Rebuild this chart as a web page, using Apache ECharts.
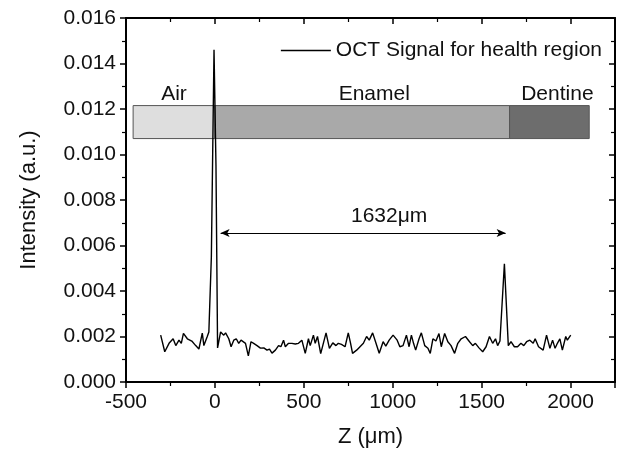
<!DOCTYPE html>
<html>
<head>
<meta charset="utf-8">
<script src="https://cdn.jsdelivr.net/npm/echarts@6/dist/echarts.min.js"></script>
<style>
  html, body { margin: 0; padding: 0; background: #fff; }
  #main { width: 623px; height: 453px; }
</style>
</head>
<body>
<div id="main"></div>
<script>
// depth position (um)
var zValues = [-305, -282, -258, -235, -220, -202, -189, -177, -155, -130, -108, -90, -71, -62, -43, -34, -20, -5, 6, 15,
  32, 50, 60, 78, 91, 106, 120, 134, 147, 172, 188, 203, 218, 237, 256, 275, 293, 307, 321, 340,
  358, 371, 386, 396, 414, 433, 452, 470, 489, 508, 526, 536, 554, 564, 577, 595, 625, 644, 663, 681,
  694, 712, 732, 750, 763, 774, 797, 816, 835, 853, 868, 887, 906, 924, 946, 961, 980, 1002, 1025, 1040,
  1058, 1077, 1092, 1105, 1117, 1129, 1148, 1161, 1180, 1198, 1211, 1226, 1243, 1260, 1273, 1292, 1310, 1328, 1348, 1366,
  1385, 1409, 1432, 1450, 1465, 1485, 1506, 1525, 1544, 1562, 1578, 1590, 1603, 1628, 1650, 1665, 1684, 1702, 1721, 1737,
  1753, 1771, 1790, 1801, 1820, 1846, 1865, 1884, 1899, 1913, 1926, 1940, 1954, 1973, 1982, 2001];
// OCT intensity (a.u.)
var intensity = [0.00206, 0.00133, 0.0017, 0.0019, 0.0016, 0.00184, 0.0017, 0.00214, 0.0019, 0.0018, 0.0016, 0.00145, 0.00215, 0.0016, 0.0020, 0.0022, 0.0055, 0.0146, 0.0095, 0.0015,
  0.0022, 0.00206, 0.00216, 0.0019, 0.00155, 0.00184, 0.0019, 0.0017, 0.00184, 0.0017, 0.00115, 0.00177, 0.0017, 0.0016, 0.00149, 0.0015, 0.0014, 0.00145, 0.00127, 0.0014,
  0.0016, 0.00155, 0.00184, 0.00155, 0.0017, 0.0017, 0.00167, 0.0017, 0.00184, 0.00126, 0.0019, 0.0016, 0.00206, 0.0017, 0.0020, 0.00125, 0.00216, 0.00148, 0.00172, 0.0016,
  0.0017, 0.00165, 0.00155, 0.00216, 0.0017, 0.00126, 0.0014, 0.00155, 0.0017, 0.0020, 0.00184, 0.00216, 0.0017, 0.00126, 0.00177, 0.00158, 0.00184, 0.00206, 0.00184, 0.00155,
  0.0016, 0.00206, 0.00155, 0.00206, 0.0017, 0.0014, 0.0019, 0.00216, 0.0016, 0.00148, 0.00126, 0.0019, 0.0018, 0.00213, 0.00155, 0.00213, 0.00177, 0.0016, 0.00126, 0.0017,
  0.0019, 0.0020, 0.00177, 0.0016, 0.0017, 0.0015, 0.00133, 0.00155, 0.0020, 0.0017, 0.0019, 0.0016, 0.0018, 0.0052, 0.0016, 0.00177, 0.00155, 0.00155, 0.0017, 0.0016,
  0.00177, 0.00184, 0.0017, 0.0019, 0.00155, 0.0014, 0.00206, 0.00148, 0.00184, 0.00148, 0.0017, 0.0019, 0.0014, 0.0020, 0.00184, 0.00206];
// tissue layers bar
var regionNames = ['Air', 'Enamel', 'Dentine'];
var regionStart = [-460, 0, 1657];
var regionEnd = [0, 1657, 2105];
var regionColors = ['#dedede', '#a9a9a9', '#6d6d6d'];
var bandLow = 0.0107;
var bandHigh = 0.01215;
// distance arrow
var arrowFrom = 32;
var arrowTo = 1635;
var arrowLevel = 0.00655;
var arrowText = '1632\u03bcm';

var myChart = echarts.init(document.getElementById('main'));
var fontName = '"Liberation Sans", Arial, sans-serif';
var fs = 21;

function BuildAreas () {
  var areas = [];
  for (var i = 0; i < regionNames.length; i++) {
    var lbl = { show: true, position: 'top', distance: 0, color: '#111', fontSize: fs, fontFamily: fontName };
    if (regionNames[i] == 'Enamel') lbl.offset = [12, 0];
    if (regionNames[i] == 'Dentine') lbl.offset = [8, 0];
    areas.push([
      { name: regionNames[i], xAxis: regionStart[i], yAxis: bandLow,
        itemStyle: { color: regionColors[i], borderColor: '#555', borderWidth: 1 }, label: lbl },
      { xAxis: regionEnd[i], yAxis: bandHigh }
    ]);
  }
  return areas;
}

var seriesData = [];
for (var i = 0; i < zValues.length; i++) {
  seriesData.push([zValues[i], intensity[i]]);
}

var axisLine = { show: true, onZero: false, lineStyle: { color: '#000', width: 2 } };

var option = {
  animation: false,
  backgroundColor: '#fff',
  grid: { left: 126, right: 8, top: 18, bottom: 71 },
  legend: {
    right: 16, top: 35,
    icon: 'rect',
    itemWidth: 50, itemHeight: 1.5,
    textStyle: { fontSize: fs, color: '#111', fontFamily: fontName },
    data: ['OCT Signal for health region']
  },
  xAxis: [
    {
      type: 'value', min: -500, max: 2250, interval: 500,
      name: 'Z (\u03bcm)', nameLocation: 'middle', nameGap: 44,
      nameTextStyle: { fontSize: 22, color: '#111', fontFamily: fontName },
      axisLine: axisLine,
      axisTick: { show: true, inside: false, length: 6, lineStyle: { color: '#000', width: 1.5 } },
      minorTick: { show: true, splitNumber: 2, length: 4, lineStyle: { color: '#000', width: 1.2 } },
      axisLabel: {
        margin: 10, fontSize: fs, color: '#111', fontFamily: fontName,
        formatter: function (v) { return (v % 500 == 0) ? String(v) : ''; }
      },
      splitLine: { show: false }
    },
    {
      type: 'value', position: 'top', min: -500, max: 2250, interval: 500,
      axisLine: axisLine,
      axisTick: { show: true, inside: true, length: 6, lineStyle: { color: '#000', width: 1.5 } },
      minorTick: { show: true, splitNumber: 2, length: 4, lineStyle: { color: '#000', width: 1.2 } },
      axisLabel: { show: false },
      splitLine: { show: false }
    }
  ],
  yAxis: [
    {
      type: 'value', min: 0, max: 0.016, interval: 0.002,
      name: 'Intensity (a.u.)', nameLocation: 'middle', nameGap: 86,
      nameTextStyle: { fontSize: 22, color: '#111', fontFamily: fontName },
      axisLine: axisLine,
      axisTick: { show: true, inside: false, length: 6, lineStyle: { color: '#000', width: 1.5 } },
      minorTick: { show: true, splitNumber: 2, length: 4, lineStyle: { color: '#000', width: 1.2 } },
      axisLabel: {
        margin: 10, fontSize: fs, color: '#111', fontFamily: fontName,
        formatter: function (v) { return v.toFixed(3); }
      },
      splitLine: { show: false }
    },
    {
      type: 'value', position: 'right', min: 0, max: 0.016, interval: 0.002,
      axisLine: axisLine,
      axisTick: { show: true, inside: true, length: 6, lineStyle: { color: '#000', width: 1.5 } },
      minorTick: { show: true, splitNumber: 2, length: 4, lineStyle: { color: '#000', width: 1.2 } },
      axisLabel: { show: false },
      splitLine: { show: false }
    }
  ],
  series: [
    {
      name: 'OCT Signal for health region',
      type: 'line',
      symbol: 'none',
      data: seriesData,
      lineStyle: { color: '#000', width: 1.4 },
      itemStyle: { color: '#000' },
      z: 5,
      markArea: {
        silent: true,
        z: 1,
        data: BuildAreas()
      },
      markLine: {
        silent: true,
        symbol: ['arrow', 'arrow'],
        symbolSize: [6, 9],
        lineStyle: { color: '#000', width: 1, type: 'solid' },
        label: {
          show: true, position: 'middle', distance: 6, formatter: arrowText,
          offset: [26, 0],
          fontSize: fs, color: '#111', fontFamily: fontName
        },
        data: [[
          { coord: [arrowFrom, arrowLevel] },
          { coord: [arrowTo, arrowLevel] }
        ]]
      }
    }
  ]
};

myChart.setOption(option);
window.addEventListener("resize", function () {
  myChart.resize();
});
</script>
</body>
</html>
